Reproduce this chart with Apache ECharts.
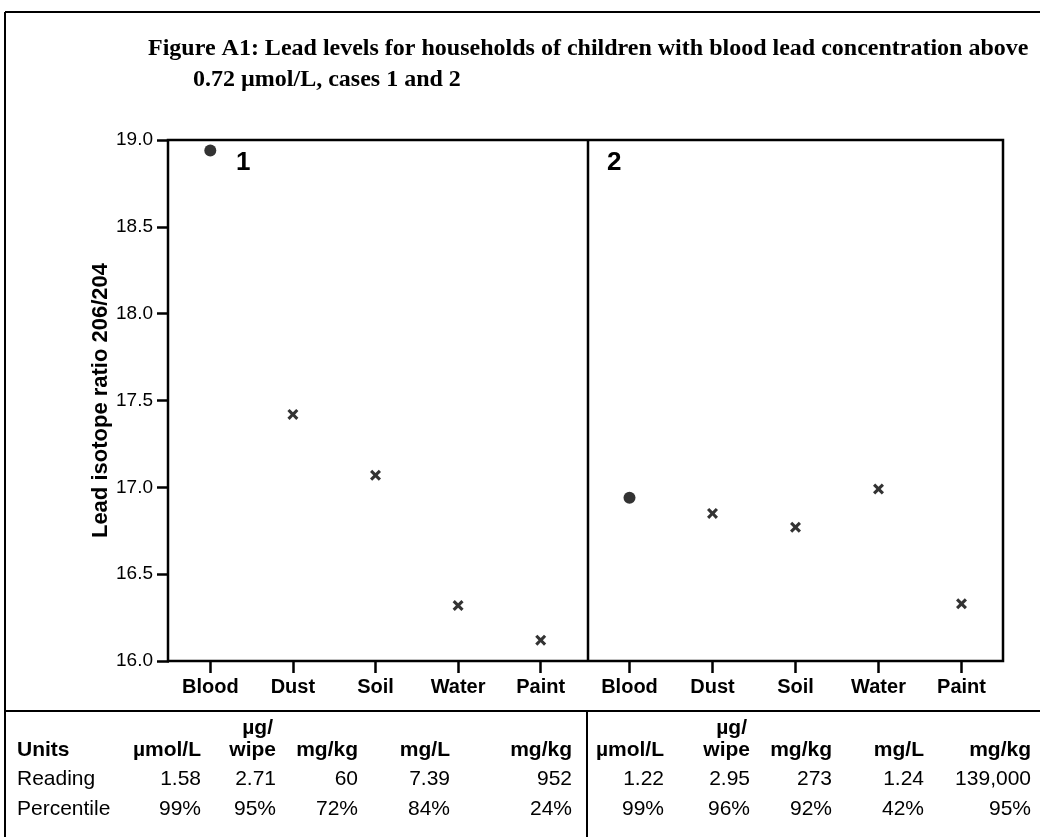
<!DOCTYPE html>
<html><head><meta charset="utf-8">
<script src="https://cdn.jsdelivr.net/npm/echarts@6/dist/echarts.min.js"></script>
<style>html,body{margin:0;padding:0;background:#fff}#c{width:1040px;height:837px}</style>
</head><body><div id="c"></div>
<script>
// ---- data ----
const categories = ['Blood', 'Dust', 'Soil', 'Water', 'Paint'];
const case1Values = [18.94, 17.42, 17.07, 16.32, 16.12];
const case2Values = [16.94, 16.85, 16.77, 16.99, 16.33];
const panelLabels = ['1', '2'];
const yMin = 16.0, yMax = 19.0, yStep = 0.5;
const titleLines = ['Figure A1: Lead levels for households of children with blood lead concentration above',
                    '0.72 \u00b5mol/L, cases 1 and 2'];
const yAxisTitle = 'Lead isotope ratio 206/204';
const rowLabels = ['Units', 'Reading', 'Percentile'];
const unitsTop = ['', '\u00b5g/', '', '', ''];
const units = ['\u00b5mol/L', 'wipe', 'mg/kg', 'mg/L', 'mg/kg'];
const case1Reading = ['1.58', '2.71', '60', '7.39', '952'];
const case1Percentile = ['99%', '95%', '72%', '84%', '24%'];
const case2Reading = ['1.22', '2.95', '273', '1.24', '139,000'];
const case2Percentile = ['99%', '96%', '92%', '42%', '95%'];

// ---- layout ----
const SANS = '"Liberation Sans", Arial, Helvetica, sans-serif';
const SERIF = '"Liberation Serif", "Times New Roman", serif';
const plotTop = 140, plotH = 521;
const g1 = {left: 169, width: 413}, g2 = {left: 588, width: 415};
const colRight = [[201, 276, 358, 450, 572], [664, 750, 832, 924, 1031]];
const rowY = {top: 728, units: 750, reading: 779, pct: 809};

const CROSS = 'path://M0,2 L2,0 L5,3 L8,0 L10,2 L7,5 L10,8 L8,10 L5,7 L2,10 L0,8 L3,5 Z';
function seriesData(vals) {
  return vals.map((v, i) => ({
    value: v,
    symbol: categories[i] === 'Blood' ? 'circle' : CROSS,
    symbolSize: categories[i] === 'Blood' ? 12 : 11
  }));
}

function xAxisCfg(gi) {
  return {
    type: 'category', gridIndex: gi, data: categories, boundaryGap: true,
    axisLine: {show: false},
    axisTick: {show: true, alignWithLabel: true, length: 12, lineStyle: {color: '#000', width: 2.5}},
    axisLabel: {color: '#000', fontFamily: SANS, fontWeight: 'bold', fontSize: 20, margin: 16},
    splitLine: {show: false}
  };
}
function yAxisCfg(gi, show) {
  return {
    type: 'value', gridIndex: gi, min: yMin, max: yMax, interval: yStep,
    show: show,
    name: show ? yAxisTitle : '', nameLocation: 'middle', nameGap: 56, nameRotate: 90,
    nameTextStyle: {color: '#000', fontFamily: SANS, fontWeight: 'bold', fontSize: 22},
    axisLine: {show: false},
    axisTick: {show: true, length: 12, lineStyle: {color: '#000', width: 2.5}},
    axisLabel: {color: '#000', fontFamily: SANS, fontSize: 19, margin: 16, formatter: v => v.toFixed(1)},
    splitLine: {show: false}
  };
}

const graphics = [];
function line(x1, y1, x2, y2, w) {
  graphics.push({type: 'line', shape: {x1, y1, x2, y2}, style: {stroke: '#000', lineWidth: w}, z: 100});
}
function text(x, y, t, font, align) {
  graphics.push({type: 'text', z: 100, style: {x, y, text: t, font, fill: '#000', align: align || 'left', verticalAlign: 'middle'}});
}
// outer figure frame
line(5, 12, 1040, 12, 2);
line(5, 12, 5, 837, 2);
line(5, 711, 1040, 711, 2);
line(587, 711, 587, 837, 2);
// plot frame
graphics.push({type: 'rect', shape: {x: 168, y: plotTop, width: 1003 - 168, height: plotH},
  style: {fill: 'none', stroke: '#000', lineWidth: 2.5}, z: 100});
line(588, plotTop, 588, plotTop + plotH, 2.5);
// title
text(148, 49, titleLines[0], 'bold 24px ' + SERIF);
text(193, 80, titleLines[1], 'bold 24px ' + SERIF);
// panel labels
text(236, 163, panelLabels[0], 'bold 26px ' + SANS);
text(607, 163, panelLabels[1], 'bold 26px ' + SANS);
// table
const F = '21px ' + SANS, FB = 'bold 21px ' + SANS;
text(17, rowY.units, rowLabels[0], FB);
text(17, rowY.reading, rowLabels[1], F);
text(17, rowY.pct, rowLabels[2], F);
[[case1Reading, case1Percentile], [case2Reading, case2Percentile]].forEach((p, pi) => {
  for (let i = 0; i < categories.length; i++) {
    const xr = colRight[pi][i];
    if (unitsTop[i]) text(xr - 3, rowY.top, unitsTop[i], FB, 'right');
    text(xr, rowY.units, units[i], FB, 'right');
    text(xr, rowY.reading, p[0][i], F, 'right');
    text(xr, rowY.pct, p[1][i], F, 'right');
  }
});

const chart = echarts.init(document.getElementById('c'), null, {renderer: 'canvas'});
chart.setOption({
  backgroundColor: '#fff',
  animation: false,
  grid: [
    {left: g1.left, top: plotTop, width: g1.width, height: plotH},
    {left: g2.left, top: plotTop, width: g2.width, height: plotH}
  ],
  xAxis: [xAxisCfg(0), xAxisCfg(1)],
  yAxis: [yAxisCfg(0, true), yAxisCfg(1, false)],
  series: [
    {type: 'scatter', xAxisIndex: 0, yAxisIndex: 0, data: seriesData(case1Values),
     itemStyle: {color: '#000'}, z: 50},
    {type: 'scatter', xAxisIndex: 1, yAxisIndex: 1, data: seriesData(case2Values),
     itemStyle: {color: '#000'}, z: 50}
  ],
  graphic: graphics
});
</script></body></html>
